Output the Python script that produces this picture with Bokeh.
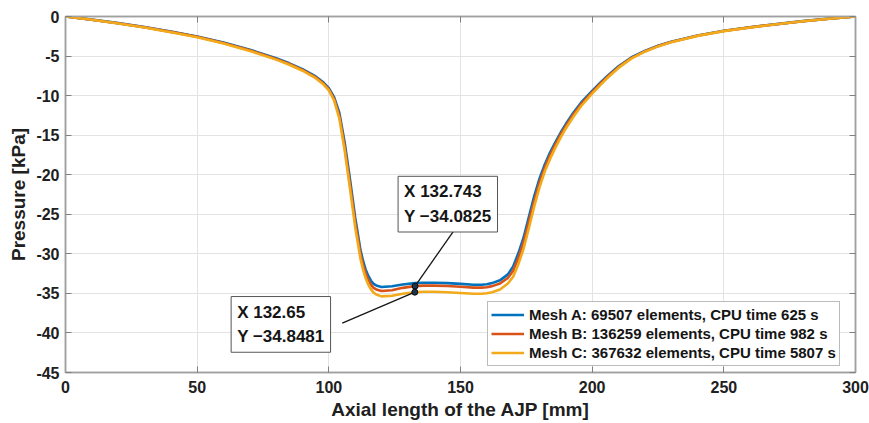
from bokeh.plotting import figure
from bokeh.models import Range1d, LinearAxis, FixedTicker, Label, Legend, LegendItem
from bokeh.embed import file_html
from bokeh.resources import INLINE

# ---------------- data ----------------
x_mm = [0, 10, 20, 30, 40, 50, 60, 70, 80, 85,
        90, 95, 98, 100, 102, 104, 106, 108, 110, 112,
        113, 114, 115, 116, 117, 118, 120, 124, 128, 132.7,
        136, 140, 145, 150, 155, 158, 160, 162, 165, 168,
        170, 172, 174, 176, 178, 180, 182, 184, 186, 188,
        190, 193, 196, 200, 203, 206, 210, 215, 220, 225,
        230, 240, 250, 260, 270, 280, 290, 300]

mesh_a = [0, -0.4, -0.84, -1.34, -1.9, -2.52, -3.28, -4.2, -5.28, -5.92,
          -6.65, -7.58, -8.35, -9.05, -10.2, -12.2, -15.9, -20.5, -25.4, -29.5,
          -30.9, -32.0, -32.8, -33.4, -33.8, -34.0, -34.2, -34.1, -33.88, -33.7,
          -33.65, -33.65, -33.7, -33.8, -33.9, -33.9, -33.85, -33.7, -33.35, -32.6,
          -31.6, -29.9, -27.9, -25.3, -22.7, -20.5, -18.7, -17.2, -15.9, -14.7,
          -13.6, -12.1, -10.8, -9.4, -8.4, -7.45, -6.3, -5.15, -4.35, -3.7,
          -3.18, -2.4, -1.81, -1.35, -0.96, -0.58, -0.27, 0]

mesh_b = [0, -0.41, -0.86, -1.37, -1.94, -2.57, -3.34, -4.28, -5.37, -6.01,
          -6.75, -7.69, -8.48, -9.2, -10.4, -12.55, -16.4, -21.1, -26.0, -30.0,
          -31.4, -32.5, -33.3, -33.9, -34.3, -34.5, -34.7, -34.6, -34.3, -34.08,
          -34.02, -34.02, -34.07, -34.17, -34.27, -34.27, -34.22, -34.08, -33.75, -33.05,
          -32.15, -30.5, -28.5, -25.9, -23.3, -21.0, -19.1, -17.55, -16.2, -14.95,
          -13.85, -12.33, -11.0, -9.55, -8.53, -7.56, -6.4, -5.22, -4.4, -3.74,
          -3.22, -2.43, -1.83, -1.37, -0.97, -0.59, -0.28, 0]

mesh_c = [0, -0.42, -0.88, -1.4, -1.98, -2.62, -3.4, -4.35, -5.45, -6.1,
          -6.85, -7.8, -8.6, -9.35, -10.6, -12.9, -16.9, -21.7, -26.6, -30.6,
          -32.0, -33.1, -33.9, -34.5, -34.9, -35.15, -35.38, -35.3, -35.05, -34.85,
          -34.8, -34.8, -34.85, -34.95, -35.05, -35.05, -34.98, -34.85, -34.5, -33.75,
          -32.9, -31.3, -29.3, -26.7, -24.0, -21.6, -19.6, -18.0, -16.6, -15.3,
          -14.15, -12.6, -11.25, -9.75, -8.7, -7.7, -6.5, -5.3, -4.45, -3.78,
          -3.25, -2.45, -1.85, -1.38, -0.98, -0.6, -0.28, 0]

series_names = ["Mesh A: 69507 elements, CPU time 625 s",
                "Mesh B: 136259 elements, CPU time 982 s",
                "Mesh C: 367632 elements, CPU time 5807 s"]
series_colors = ["#0072BD", "#D95319", "#F2AA1A"]

x_ticks = [0, 50, 100, 150, 200, 250, 300]
y_ticks = [0, -5, -10, -15, -20, -25, -30, -35, -40, -45]

tip_x = [132.743, 132.65]
tip_y = [-34.0825, -34.8481]

# ---------------- figure ----------------
FONT = "Liberation Sans"
p = figure(width=869, height=423, output_backend="svg", toolbar_location=None,
           x_range=Range1d(0, 300), y_range=Range1d(-45, 0),
           min_border_left=65, min_border_right=14, min_border_top=16, min_border_bottom=51)
p.background_fill_color = "white"
p.border_fill_color = "white"
p.outline_line_color = "#a0a0a0"
p.outline_line_width = 1.5

for ax in (p.xaxis[0], p.yaxis[0]):
    ax.axis_line_color = "#a0a0a0"
    ax.axis_line_width = 1.5
    ax.major_tick_line_color = "#808080"
    ax.major_tick_in = 6
    ax.major_tick_out = 0
    ax.minor_tick_line_color = None
    ax.major_label_text_font = FONT
    ax.major_label_text_font_style = "bold"
    ax.major_label_text_font_size = "16px"
    ax.major_label_text_color = "#202020"
    ax.axis_label_text_font = FONT
    ax.axis_label_text_font_style = "bold"
    ax.axis_label_text_font_size = "19px"
    ax.axis_label_text_color = "#202020"

p.xaxis[0].ticker = FixedTicker(ticks=x_ticks)
p.yaxis[0].ticker = FixedTicker(ticks=y_ticks)
p.xaxis[0].major_label_overrides = {t: str(t) for t in x_ticks}
p.yaxis[0].major_label_overrides = {t: str(t) for t in y_ticks}
p.xaxis[0].axis_label = "Axial length of the AJP [mm]"
p.yaxis[0].axis_label = "Pressure [kPa]"
p.xaxis[0].major_label_standoff = 8
p.xaxis[0].axis_label_standoff = 3
p.yaxis[0].major_label_standoff = 6
p.yaxis[0].axis_label_standoff = 4

for loc, tk in (("right", y_ticks), ("above", x_ticks)):
    ax = LinearAxis(ticker=FixedTicker(ticks=tk))
    ax.axis_line_color = "#a0a0a0"
    ax.axis_line_width = 1.5
    ax.major_tick_line_color = "#808080"
    ax.major_tick_in = 6
    ax.major_tick_out = 0
    ax.minor_tick_line_color = None
    ax.major_label_text_font_size = "0px"
    ax.major_label_text_alpha = 0
    ax.major_label_standoff = 0
    p.add_layout(ax, loc)

p.xgrid.ticker = FixedTicker(ticks=x_ticks)
p.ygrid.ticker = FixedTicker(ticks=y_ticks)
p.grid.grid_line_color = "#e3e3e3"
p.grid.grid_line_width = 1

renderers = []
for ys, c in zip([mesh_a, mesh_b, mesh_c], series_colors):
    r = p.line(x_mm, ys, line_color=c, line_width=2.6, line_join="round")
    renderers.append(r)

# ---------------- data tips ----------------
box_tl = [(126.3, -20.2), (62.9, -35.4)]
conn_from = [(147.5, -27.06), (105.1, -38.76)]
for (tx, ty), (bx, by), (cx, cy) in zip(zip(tip_x, tip_y), box_tl, conn_from):
    p.segment(x0=[cx], y0=[cy], x1=[tx], y1=[ty], line_color="#151515", line_width=1.3)
    txt = "X %s\nY %s" % (f"{tx:g}", f"{ty:g}".replace("-", "\u2212"))
    lab = Label(x=bx, y=by, text=txt, anchor="top_left",
                text_font=FONT, text_font_style="bold", text_font_size="17px",
                text_color="#151515", text_line_height=1.3,
                background_fill_color="white", border_line_color="#555555",
                border_line_width=1, padding=6)
    p.add_layout(lab)
p.scatter(tip_x, tip_y, size=6, fill_color="#1d3550", line_color="#0a0a0a", line_width=1)

# ---------------- legend ----------------
legend = Legend(items=[LegendItem(label=n, renderers=[r]) for n, r in zip(series_names, renderers)],
                location=(422, 6))
legend.label_text_font = FONT
legend.label_text_font_style = "bold"
legend.label_text_font_size = "15px"
legend.label_text_color = "#151515"
legend.glyph_width = 33
legend.glyph_height = 19
legend.label_height = 19
legend.label_standoff = 5
legend.spacing = 0
legend.padding = 3
legend.margin = 0
legend.border_line_color = "#777777"
legend.border_line_width = 1
legend.background_fill_color = "white"
legend.background_fill_alpha = 1
p.add_layout(legend, "center")

open("out.html", "w").write(file_html(p, INLINE))
